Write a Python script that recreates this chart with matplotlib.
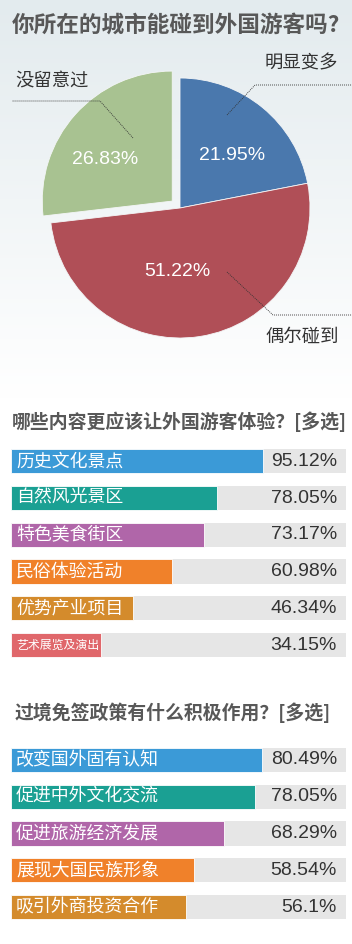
import numpy as np
import matplotlib
matplotlib.use('Agg')
import matplotlib.pyplot as plt
from matplotlib.colors import LinearSegmentedColormap

plt.rcParams['font.family'] = ['Noto Sans CJK SC', 'DejaVu Sans']

# ---------------- data ----------------
pie_title = "你所在的城市能碰到外国游客吗?"
pie_labels = ["明显变多", "偶尔碰到", "没留意过"]
pie_values = [21.95, 51.22, 26.83]
pie_colors = ["#4a78ad", "#b04f57", "#a8c291"]
pie_explode = [0, 0, 0.08]

q2_title = "哪些内容更应该让外国游客体验？[多选]"
q2_cats = ["历史文化景点", "自然风光景区", "特色美食街区", "民俗体验活动", "优势产业项目", "艺术展览及演出"]
q2_values = [95.12, 78.05, 73.17, 60.98, 46.34, 34.15]
q2_colors = ["#3b9ad7", "#1aa093", "#b066a9", "#f0812a", "#d48b2c", "#e0676b"]

q3_title = "过境免签政策有什么积极作用？[多选]"
q3_cats = ["改变国外固有认知", "促进中外文化交流", "促进旅游经济发展", "展现大国民族形象", "吸引外商投资合作"]
q3_values = [80.49, 78.05, 68.29, 58.54, 56.1]
q3_colors = ["#3b9ad7", "#1aa093", "#b066a9", "#f0812a", "#d48b2c"]

# ---------------- layout ----------------
W, H = 352, 944
fig = plt.figure(figsize=(W / 100, H / 100), dpi=100)


def px_axes(x0, y0, x1, y1, **kw):
    return fig.add_axes([x0 / W, 1 - y1 / H, (x1 - x0) / W, (y1 - y0) / H], **kw)


def fy(y):
    return 1 - y / H


# background gradient
bg = fig.add_axes([0, 0, 1, 1], zorder=-10)
cmap = LinearSegmentedColormap.from_list("bg", [(0, "#e3ebee"), (0.42, "#ffffff"), (1, "#ffffff")])
grad = np.linspace(0, 1, H).reshape(-1, 1)
bg.imshow(grad, aspect="auto", cmap=cmap, extent=[0, 1, 0, 1], origin="upper")
bg.axis("off")

title_color = "#585858"
fig.text(12 / W, fy(25), pie_title, fontsize=16.3, fontweight="bold", color=title_color,
         ha="left", va="center")
fig.text(12 / W, fy(422), q2_title, fontsize=13.6, fontweight="bold", color=title_color,
         ha="left", va="center")
fig.text(15 / W, fy(713), q3_title, fontsize=13.6, fontweight="bold", color=title_color,
         ha="left", va="center")

# ---------------- pie ----------------
CX, CY, R = 180, 208, 130
pax = px_axes(0, 32, 352, 384)
pax.set_aspect("equal")
pax.axis("off")
pax.pie(pie_values, colors=pie_colors, startangle=90, counterclock=False,
        explode=pie_explode, radius=1,
        wedgeprops=dict(edgecolor="#f4f6f7", linewidth=0.6))
pax.set_xlim(-CX / R, (W - CX) / R)
pax.set_ylim(-(384 - CY) / R, (CY - 32) / R)


def pd(x, y):
    return ((x - CX) / R, (CY - y) / R)


pct_pos = [(232, 155), (177, 272), (105, 160)]
for v, (x, y) in zip(pie_values, pct_pos):
    pax.text(*pd(x, y), f"{v:.2f}%", color="white", fontsize=14,
             family=["Liberation Sans", "DejaVu Sans"], ha="center", va="center")

label_pos = [(265, 63, "left"), (265, 337, "left"), (15, 82, "left")]
for lab, (x, y, ha) in zip(pie_labels, label_pos):
    pax.text(*pd(x, y), lab, fontsize=13.2, color="#333333", ha=ha, va="center")

leaders = [
    [(227, 115), (255, 85), (352, 85)],
    [(227, 272), (273, 315), (352, 315)],
    [(133, 138), (100, 101), (12, 101)],
]
for pts in leaders:
    xs, ys = zip(*[pd(x, y) for x, y in pts])
    pax.plot(xs, ys, color="#333333", lw=0.6, ls=(0, (1.2, 1.2)), clip_on=False)


# ---------------- bar charts ----------------
def bar_chart(box, cats, vals, colors, track_max, small_last=False):
    ax = px_axes(*box)
    n = len(cats)
    y = np.arange(n)
    ax.barh(y, [track_max] * n, height=0.655, color="#e6e6e6")
    ax.barh(y, vals, height=0.655, color=colors, edgecolor="white", linewidth=0.6)
    ax.set_xlim(0, track_max)
    ax.set_ylim(n - 0.5, -0.5)
    ax.axis("off")
    for i, (c, v) in enumerate(zip(cats, vals)):
        fs = 12.9
        if small_last and i == n - 1:
            fs = 8.6
        ax.annotate(c, xy=(0, i), xytext=(5.5, 0), textcoords="offset pixels",
                    color="white", fontsize=fs, ha="left", va="center")
        ax.annotate(f"{v:g}%", xy=(track_max, i), xytext=(-9, 0), textcoords="offset pixels",
                    color="#333333", fontsize=14, family=["Liberation Sans", "DejaVu Sans"],
                    ha="right", va="center")
    return ax


bar_chart((10.5, 442.9, 346, 663.4), q2_cats, q2_values, q2_colors, 335.5 / 2.65, small_last=True)
bar_chart((10.5, 741.6, 346, 925.4), q3_cats, q3_values, q3_colors, 335.5 / 3.13)

fig.savefig("out.png", dpi=100)
